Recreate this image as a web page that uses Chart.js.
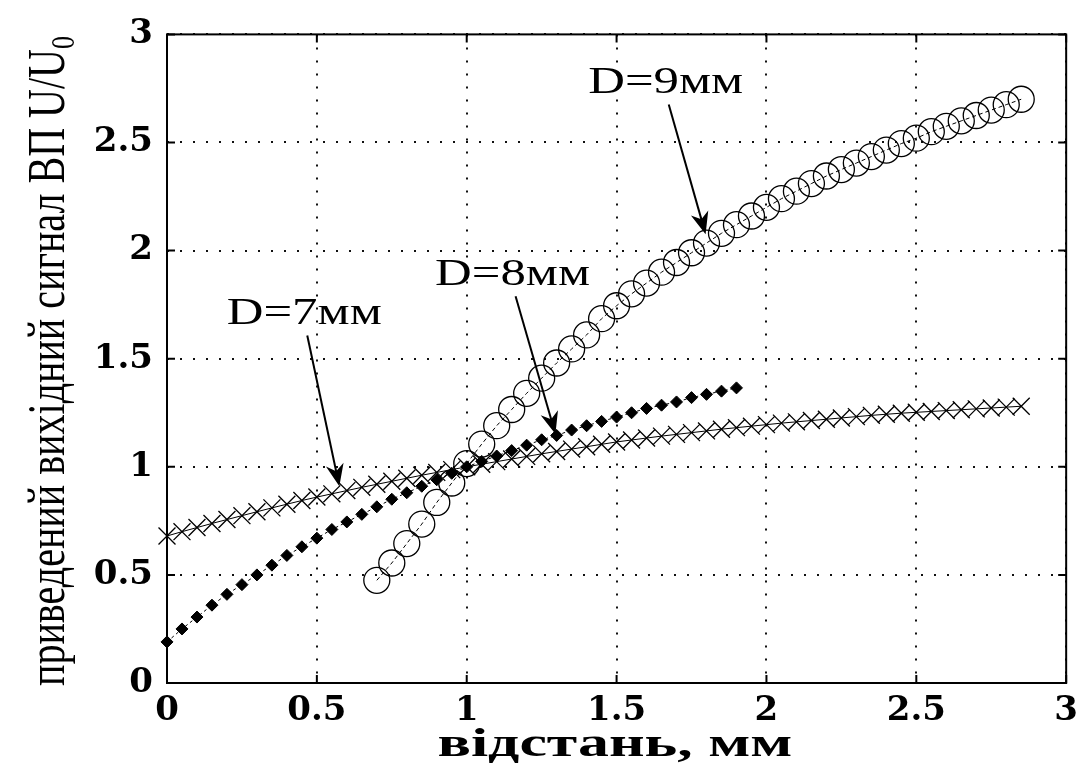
<!DOCTYPE html>
<html>
<head>
<meta charset="utf-8">
<script src="https://cdn.jsdelivr.net/npm/chart.js@4.4.1/dist/chart.umd.min.js"></script>
<style>
  html, body { margin: 0; padding: 0; background: #fff; }
  #chart { display: block; }
</style>
</head>
<body>
<canvas id="chart" width="1086" height="772"></canvas>
<script>
// axis ticks
const xTicks = [0, 0.5, 1, 1.5, 2, 2.5, 3];
const yTicks = [0, 0.5, 1, 1.5, 2, 2.5, 3];

// D = 7 mm (crosses)
const x7 = [0, 0.05, 0.1, 0.15, 0.2, 0.25, 0.3, 0.35, 0.4, 0.45, 0.5, 0.55, 0.6, 0.65, 0.7, 0.75, 0.8, 0.85, 0.9, 0.95,
  1, 1.05, 1.1, 1.15, 1.2, 1.25, 1.3, 1.35, 1.4, 1.45, 1.5, 1.55, 1.6, 1.65, 1.7, 1.75, 1.8, 1.85, 1.9, 1.95,
  2, 2.05, 2.1, 2.15, 2.2, 2.25, 2.3, 2.35, 2.4, 2.45, 2.5, 2.55, 2.6, 2.65, 2.7, 2.75, 2.8, 2.85];
const y7 = [0.680, 0.700, 0.719, 0.738, 0.756, 0.774, 0.792, 0.810, 0.827, 0.844,
  0.860, 0.875, 0.890, 0.905, 0.919, 0.933, 0.947, 0.961, 0.974, 0.987,
  1.000, 1.012, 1.024, 1.036, 1.048, 1.060, 1.071, 1.082, 1.093, 1.104,
  1.115, 1.124, 1.133, 1.142, 1.150, 1.158, 1.166, 1.174, 1.181, 1.188,
  1.195, 1.202, 1.208, 1.214, 1.220, 1.226, 1.232, 1.238, 1.243, 1.248,
  1.252, 1.256, 1.260, 1.264, 1.268, 1.272, 1.276, 1.280];

// D = 8 mm (diamonds)
const x8 = [0, 0.05, 0.1, 0.15, 0.2, 0.25, 0.3, 0.35, 0.4, 0.45, 0.5, 0.55, 0.6, 0.65, 0.7, 0.75, 0.8, 0.85, 0.9, 0.95,
  1, 1.05, 1.1, 1.15, 1.2, 1.25, 1.3, 1.35, 1.4, 1.45, 1.5, 1.55, 1.6, 1.65, 1.7, 1.75, 1.8, 1.85, 1.9];
const y8 = [0.19, 0.25, 0.305, 0.36, 0.41, 0.455, 0.50, 0.545, 0.59, 0.63,
  0.67, 0.71, 0.745, 0.78, 0.815, 0.85, 0.88, 0.91, 0.94, 0.97,
  1.00, 1.025, 1.05, 1.075, 1.10, 1.125, 1.145, 1.17, 1.19, 1.21,
  1.23, 1.25, 1.27, 1.285, 1.30, 1.32, 1.335, 1.35, 1.365];

// D = 9 mm (circles)
const x9 = [0.7, 0.75, 0.8, 0.85, 0.9, 0.95, 1, 1.05, 1.1, 1.15, 1.2, 1.25, 1.3, 1.35, 1.4, 1.45, 1.5, 1.55, 1.6, 1.65,
  1.7, 1.75, 1.8, 1.85, 1.9, 1.95, 2, 2.05, 2.1, 2.15, 2.2, 2.25, 2.3, 2.35, 2.4, 2.45, 2.5, 2.55, 2.6, 2.65,
  2.7, 2.75, 2.8, 2.85];
const y9 = [0.475, 0.555, 0.645, 0.735, 0.835, 0.925, 1.015, 1.105, 1.19, 1.265,
  1.34, 1.41, 1.48, 1.545, 1.61, 1.685, 1.745, 1.80, 1.85, 1.90,
  1.945, 1.99, 2.035, 2.08, 2.12, 2.16, 2.20, 2.24, 2.275, 2.31,
  2.345, 2.375, 2.405, 2.435, 2.465, 2.495, 2.52, 2.55, 2.575, 2.60,
  2.625, 2.65, 2.675, 2.70];

// arrow labels, in data units
const notes = [
  { text: 'D=7мм', lx: 0.458, ly: 1.661, fromX: 0.468, fromY: 1.607, toX: 0.575, toY: 0.91 },
  { text: 'D=8мм', lx: 1.153, ly: 1.843, fromX: 1.163, fromY: 1.789, toX: 1.296, toY: 1.152 },
  { text: 'D=9мм', lx: 1.664, ly: 2.731, fromX: 1.674, fromY: 2.676, toX: 1.797, toY: 2.076 },
];

const tickFont = { family: '"DejaVu Serif"', size: 34, weight: 'bold' };

const toPoints = (xs, ys) => xs.map((x, i) => ({ x, y: ys[i] }));

const drawFitted = (ctx, text, font, width, cx, baseY) => {
  ctx.save();
  ctx.font = font;
  const w = ctx.measureText(text).width;
  ctx.translate(cx, baseY);
  ctx.scale(width / w, 1);
  ctx.textAlign = 'center';
  ctx.textBaseline = 'alphabetic';
  ctx.fillText(text, 0, 0);
  ctx.restore();
};

const drawArrow = (ctx, x1, y1, x2, y2) => {
  const ang = Math.atan2(y2 - y1, x2 - x1);
  const len = 22, half = 9;
  ctx.beginPath();
  ctx.moveTo(x1, y1);
  ctx.lineTo(x2 - Math.cos(ang) * 12, y2 - Math.sin(ang) * 12);
  ctx.lineWidth = 2;
  ctx.stroke();
  const bx = x2 - Math.cos(ang) * len, by = y2 - Math.sin(ang) * len;
  const nx = x2 - Math.cos(ang) * len * 0.7, ny = y2 - Math.sin(ang) * len * 0.7;
  ctx.beginPath();
  ctx.moveTo(x2, y2);
  ctx.lineTo(bx - Math.sin(ang) * half, by + Math.cos(ang) * half);
  ctx.lineTo(nx, ny);
  ctx.lineTo(bx + Math.sin(ang) * half, by - Math.cos(ang) * half);
  ctx.closePath();
  ctx.fill();
};

const framePlugin = {
  id: 'frame',
  afterDraw(chart) {
    const { ctx, chartArea: a, scales: { x, y } } = chart;
    ctx.save();
    ctx.strokeStyle = '#000';
    ctx.fillStyle = '#000';

    // box and inward ticks
    ctx.lineWidth = 2;
    ctx.strokeRect(a.left, a.top, a.right - a.left, a.bottom - a.top);
    ctx.beginPath();
    xTicks.forEach((v) => {
      const px = x.getPixelForValue(v);
      ctx.moveTo(px, a.bottom); ctx.lineTo(px, a.bottom - 8);
      ctx.moveTo(px, a.top); ctx.lineTo(px, a.top + 8);
    });
    yTicks.forEach((v) => {
      const py = y.getPixelForValue(v);
      ctx.moveTo(a.left, py); ctx.lineTo(a.left + 8, py);
      ctx.moveTo(a.right, py); ctx.lineTo(a.right - 8, py);
    });
    ctx.stroke();

    // annotations
    notes.forEach((n) => {
      drawArrow(ctx, x.getPixelForValue(n.fromX), y.getPixelForValue(n.fromY),
        x.getPixelForValue(n.toX), y.getPixelForValue(n.toY));
      drawFitted(ctx, n.text, '38px "Liberation Serif"', 155, x.getPixelForValue(n.lx), y.getPixelForValue(n.ly));
    });

    // x title
    drawFitted(ctx, 'відстань, мм', 'bold 40px "Liberation Serif"', 355, 615, 756);

    // y title, rotated, with subscript 0
    const f = 40;
    const main = 'приведений вихідний сигнал ВП U/U';
    ctx.font = f + 'px "Liberation Serif"';
    const wMain = ctx.measureText(main).width;
    ctx.font = Math.round(f * 0.65) + 'px "Liberation Serif"';
    const wSub = ctx.measureText('0').width;
    const total = wMain + wSub;
    ctx.translate(64, 361);
    ctx.rotate(-Math.PI / 2);
    ctx.scale(650 / total, 1.3);
    ctx.textAlign = 'left';
    ctx.textBaseline = 'alphabetic';
    ctx.font = f + 'px "Liberation Serif"';
    ctx.fillText(main, -total / 2, 0);
    ctx.font = Math.round(f * 0.65) + 'px "Liberation Serif"';
    ctx.fillText('0', -total / 2 + wMain, f * 0.2);
    ctx.restore();
  },
};

const axisCommon = (ticks, fit, pad) => ({
  type: 'linear',
  min: 0,
  max: 3,
  afterBuildTicks: (scale) => { scale.ticks = ticks.map((v) => ({ value: v })); },
  afterFit: fit,
  grid: { color: '#111', lineWidth: 2, drawTicks: false },
  border: { display: false, dash: [2, 11] },
  ticks: { color: '#000', font: tickFont, padding: pad, maxRotation: 0, callback: (v) => String(v) },
});

new Chart(document.getElementById('chart'), {
  type: 'scatter',
  data: {
    datasets: [
      {
        label: 'D=7мм',
        data: toPoints(x7, y7),
        showLine: true,
        borderColor: '#000',
        borderWidth: 1,
        pointStyle: 'crossRot',
        pointRadius: 12,
        pointBorderWidth: 1.3,
        pointBorderColor: '#000',
        clip: false,
      },
      {
        label: 'D=8мм',
        data: toPoints(x8, y8),
        showLine: true,
        borderColor: '#000',
        borderWidth: 1,
        borderDash: [3, 3],
        pointStyle: 'rectRot',
        pointRadius: 6,
        pointBackgroundColor: '#000',
        pointBorderColor: '#000',
        pointBorderWidth: 1,
        clip: false,
      },
      {
        label: 'D=9мм',
        data: toPoints(x9, y9),
        showLine: true,
        borderColor: '#000',
        borderWidth: 1,
        borderDash: [4, 3],
        pointStyle: 'circle',
        pointRadius: 13,
        pointBackgroundColor: 'rgba(0,0,0,0)',
        pointBorderColor: '#000',
        pointBorderWidth: 1.3,
        clip: false,
      },
    ],
  },
  options: {
    responsive: false,
    animation: false,
    devicePixelRatio: 1,
    layout: { padding: { top: 24, right: 16, left: 0, bottom: 0 } },
    plugins: { legend: { display: false }, tooltip: { enabled: false } },
    scales: {
      x: axisCommon(xTicks, (s) => { s.height = 89; }, 8),
      y: axisCommon(yTicks, (s) => { s.width = 167; }, 14),
    },
  },
  plugins: [framePlugin],
});
</script>
</body>
</html>
